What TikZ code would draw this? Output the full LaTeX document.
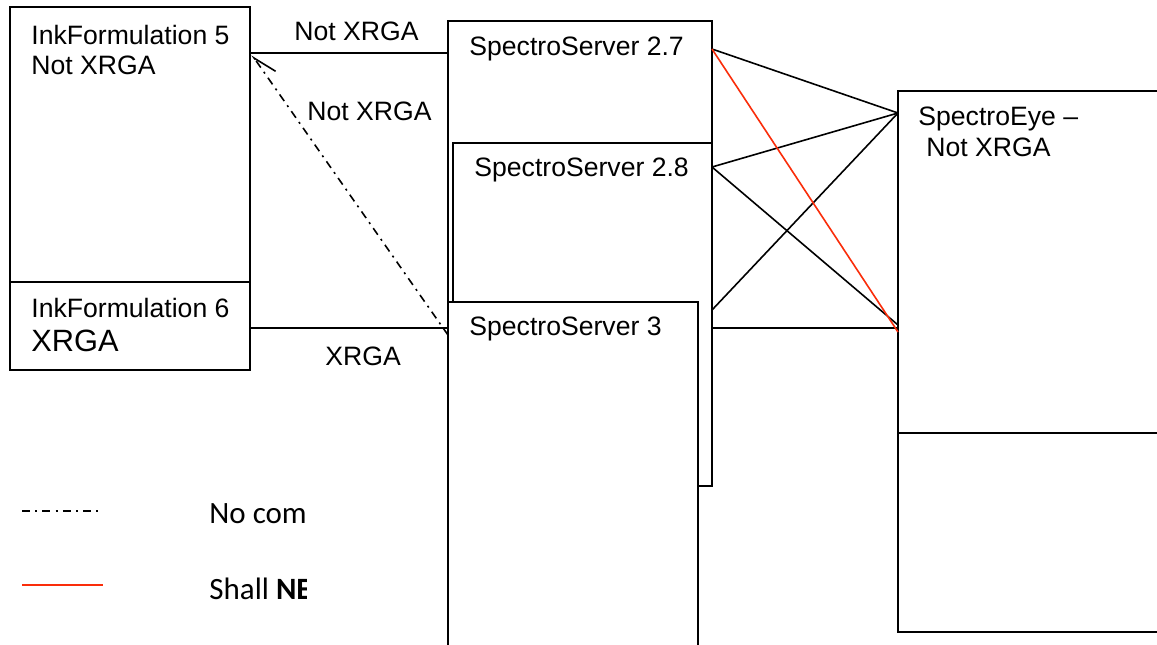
\documentclass[tikz,border=0pt]{standalone}
\usepackage{fontspec}
\setmainfont{Liberation Sans}
\newfontfamily\legendfont{Carlito}
\usetikzlibrary{arrows.meta}
\definecolor{nevered}{RGB}{250,45,10}

\tikzset{
  unitbox/.style={draw, line width=1pt, fill=white, anchor=north west, inner sep=0pt, outer sep=0pt},
  boxtext/.style={anchor=north west, align=left, inner sep=0pt, font=\fontsize{13.3}{15}\selectfont},
  bigtext/.style={boxtext, font=\fontsize{15.4}{18}\selectfont},
  legendtext/.style={anchor=north west, inner sep=0pt, font=\legendfont\fontsize{15.5}{18}\selectfont},
  wire/.style={line width=0.8pt},
  never/.style={wire, color=nevered},
  nocomm/.style={wire, dash pattern=on 4pt off 2.6pt on 1pt off 2.6pt},
}

\begin{document}
\begin{tikzpicture}[x=0.5pt, y=-0.5pt]
        \clip (0,0) rectangle (1157,644);
        \fill[white] (0,0) rectangle (1157,644);

        % ink formulations
        \node[unitbox, minimum width=120pt, minimum height=137.5pt] (if5) at (10,7) {};
        \node[boxtext] (if5txt) at ([shift={(21,18)}]if5.north west) {InkFormulation 5\\Not XRGA};
        \node[unitbox, minimum width=120pt, minimum height=44pt] (if6) at (10,282) {};
        \node[boxtext] (if6txt) at ([shift={(21,16)}]if6.north west) {InkFormulation 6};
        \node[bigtext] (if6xrga) at ([shift={(21,48)}]if6.north west) {XRGA};

        % spectro servers
        \node[unitbox, minimum width=132pt, minimum height=232.5pt] (ss27) at (448,21) {};
        \node[boxtext] (ss27txt) at ([shift={(21,16)}]ss27.north west) {SpectroServer 2.7};
        \node[unitbox, minimum width=129.5pt, minimum height=171.5pt] (ss28) at (453,143) {};
        \node[boxtext] (ss28txt) at ([shift={(21,15)}]ss28.north west) {SpectroServer 2.8};
        \node[unitbox, minimum width=125pt, minimum height=180pt] (ss3) at (448,302) {};
        \node[boxtext] (ss3txt) at ([shift={(21,15)}]ss3.north west) {SpectroServer 3};

        % spectro eye
        \node[unitbox, minimum width=140pt, minimum height=270.5pt] (se) at (898,91) {};
        \node[boxtext, font=\fontsize{13.3}{15.5}\selectfont] (setxt) at ([shift={(20,16)}]se.north west) {SpectroEye –\\\hspace*{4pt}Not XRGA};
        \draw[line width=1pt] ([shift={(0,342)}]se.north west) -- ([shift={(0,342)}]se.north east);

        % left connections
        \draw[wire] ([shift={(0,46)}]if5.north east) -- ([shift={(0,32)}]ss27.north west);
        \draw[wire] ([shift={(0,46)}]if6.north east) -- ([shift={(0,26)}]ss3.north west);
        \draw[nocomm, -{Straight Barb[harpoon, swap, length=11.5pt, width=10pt]}] ([shift={(0,33)}]ss3.north west) -- ([shift={(2,48)}]if5.north east);

        \node[boxtext] (lbl1) at (294,22) {Not XRGA};
        \node[boxtext] (lbl2) at (307,102) {Not XRGA};
        \node[boxtext] (lbl3) at (325,347) {XRGA};

        % right connections
        \draw[wire] ([shift={(0,28)}]ss27.north east) -- ([shift={(0,22)}]se.north west);
        \draw[wire] ([shift={(0,24)}]ss28.north east) -- ([shift={(0,22)}]se.north west);
        \draw[wire] ([shift={(0,24)}]ss28.north east) -- ([shift={(0,234)}]se.north west);
        \draw[wire] ([shift={(0,167)}]ss28.north east) -- ([shift={(0,22)}]se.north west);
        \draw[wire] ([shift={(0,185)}]ss28.north east) -- ([shift={(0,237)}]se.north west);
        \draw[never] ([shift={(0,28)}]ss27.north east) -- ([shift={(0,241)}]se.north west);

        % legend
        \draw[nocomm] (22,511) -- (103,511);
        \draw[never] (22,585) -- (103,585);
        \begin{scope}
            \clip (0,440) rectangle (306,644);
            \node[legendtext] (lgnocomm) at (209,503) {No com};
            \node[legendtext] (lgnever) at (209,578) {Shall \textbf{NE}};
        \end{scope}
\end{tikzpicture}
\end{document}
